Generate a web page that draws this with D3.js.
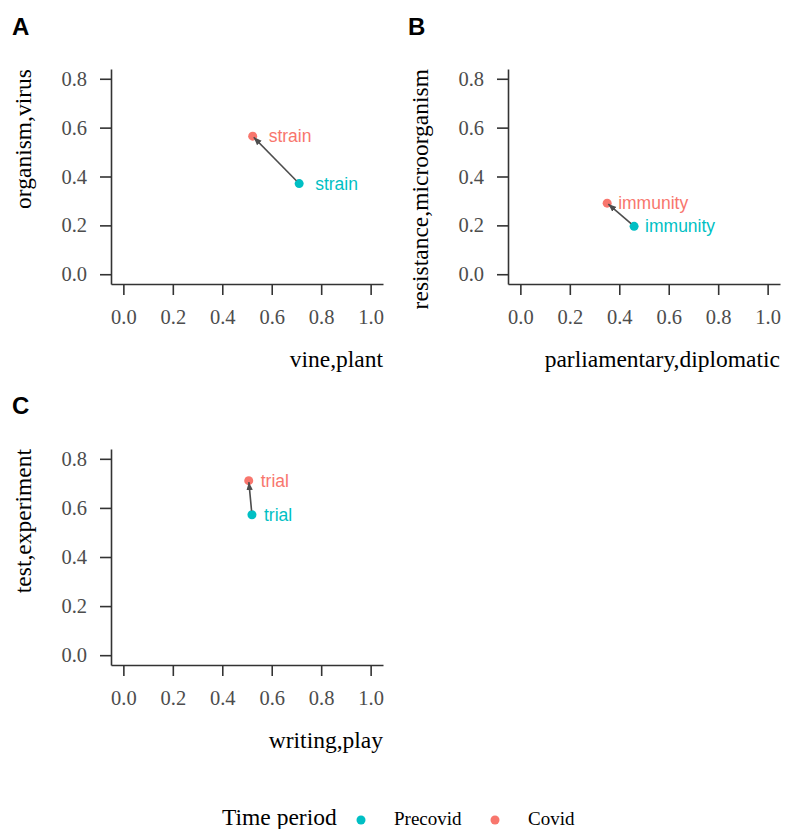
<!DOCTYPE html>
<html>
<head>
<meta charset="utf-8">
<script src="https://cdn.jsdelivr.net/npm/d3@7"></script>
<style>
  html, body { margin: 0; padding: 0; background: #fff; }
  svg { display: block; }
</style>
</head>
<body>
<svg id="chart" width="787" height="829"></svg>
<script>
// ---- data ----
const panelLetters = ["A", "B", "C"];
const words = ["strain", "immunity", "trial"];
const xAxisTitles = ["vine,plant", "parliamentary,diplomatic", "writing,play"];
const yAxisTitles = ["organism,virus", "resistance,microorganism", "test,experiment"];
const precovidX = [0.711, 0.460, 0.520];
const precovidY = [0.371, 0.196, 0.572];
const covidX = [0.523, 0.351, 0.507];
const covidY = [0.565, 0.291, 0.711];
const xTicks = [0, 0.2, 0.4, 0.6, 0.8, 1.0];
const yTicks = [0, 0.2, 0.4, 0.6, 0.8];
const periods = ["Precovid", "Covid"];
const legendTitle = "Time period";

// ---- layout ----
const colors = { Precovid: "#00BFC4", Covid: "#F8766D" };
const xDomain = [-0.05, 1.05];
const yDomain = [-0.04, 0.84];
const layout = [
  { x0: 111, x1: 383, y0: 284, y1: 69,  letterX: 12,  letterY: 35,  labelDx: 16 },
  { x0: 508, x1: 780, y0: 284, y1: 69,  letterX: 408, letterY: 35,  labelDx: 11 },
  { x0: 111, x1: 383, y0: 665, y1: 449, letterX: 12,  letterY: 414, labelDx: 12 }
];
const serif = "'Liberation Serif', 'Times New Roman', serif";
const sans = "'Liberation Sans', Arial, sans-serif";

const svg = d3.select("#chart");
const defs = svg.append("defs");
defs.append("marker")
  .attr("id", "arrowhead")
  .attr("viewBox", "0 0 10 10")
  .attr("refX", 10).attr("refY", 5)
  .attr("markerUnits", "userSpaceOnUse")
  .attr("markerWidth", 8).attr("markerHeight", 8)
  .attr("orient", "auto")
  .append("path")
  .attr("d", "M0,1 L10,5 L0,9 Z")
  .attr("fill", "#4d4d4d");

panelLetters.forEach((letter, i) => {
  const L = layout[i];
  const x = d3.scaleLinear().domain(xDomain).range([L.x0, L.x1]);
  const y = d3.scaleLinear().domain(yDomain).range([L.y0, L.y1]);
  const g = svg.append("g");

  // panel letter
  g.append("text")
    .attr("x", L.letterX).attr("y", L.letterY)
    .attr("font-family", sans).attr("font-weight", "bold")
    .attr("font-size", 24).attr("fill", "#000")
    .text(letter);

  // x axis
  const xa = g.append("g")
    .attr("transform", `translate(0,${L.y0})`)
    .call(d3.axisBottom(x).tickValues(xTicks).tickFormat(d3.format(".1f"))
      .tickSize(11).tickSizeOuter(0).tickPadding(14));
  // y axis
  const ya = g.append("g")
    .attr("transform", `translate(${L.x0},0)`)
    .call(d3.axisLeft(y).tickValues(yTicks).tickFormat(d3.format(".1f"))
      .tickSize(11).tickSizeOuter(0).tickPadding(13));

  [xa, ya].forEach(a => {
    a.select(".domain").attr("stroke", "#333").attr("stroke-width", 1.6);
    a.selectAll(".tick line").attr("stroke", "#333").attr("stroke-width", 1.6);
    a.selectAll(".tick text")
      .attr("font-family", serif).attr("font-size", 20.5).attr("fill", "#4d4d4d");
  });

  // axis titles
  g.append("text")
    .attr("x", L.x1).attr("y", L.y0 + 83)
    .attr("text-anchor", "end")
    .attr("font-family", serif).attr("font-size", 23.5).attr("fill", "#000")
    .text(xAxisTitles[i]);
  g.append("text")
    .attr("transform", `translate(${L.x0 - 80},${L.y1}) rotate(-90)`)
    .attr("text-anchor", "end")
    .attr("font-family", serif).attr("font-size", 23.5).attr("fill", "#000")
    .text(yAxisTitles[i]);

  // points
  const pts = [
    { period: "Precovid", vx: precovidX[i], vy: precovidY[i] },
    { period: "Covid", vx: covidX[i], vy: covidY[i] }
  ];
  g.selectAll("circle.pt").data(pts).enter().append("circle")
    .attr("class", "pt")
    .attr("cx", d => x(d.vx)).attr("cy", d => y(d.vy))
    .attr("r", 4.5).attr("fill", d => colors[d.period]);

  // arrow from precovid to covid (drawn over the points)
  const px = x(precovidX[i]), py = y(precovidY[i]);
  const cx = x(covidX[i]), cy = y(covidY[i]);
  const len = Math.hypot(cx - px, cy - py);
  const ux = (cx - px) / len, uy = (cy - py) / len;
  g.append("line")
    .attr("x1", px + ux * 4).attr("y1", py + uy * 4)
    .attr("x2", cx - ux * 1.5).attr("y2", cy - uy * 1.5)
    .attr("stroke", "#4d4d4d").attr("stroke-width", 1.6)
    .attr("marker-end", "url(#arrowhead)");

  // labels
  g.selectAll("text.lbl").data(pts).enter().append("text")
    .attr("class", "lbl")
    .attr("x", d => x(d.vx) + L.labelDx).attr("y", d => y(d.vy))
    .attr("dy", "0.35em")
    .attr("font-family", sans).attr("font-size", 17.5)
    .attr("fill", d => colors[d.period])
    .text(words[i]);
});

// legend
const lg = svg.append("g");
lg.append("text")
  .attr("x", 222).attr("y", 825)
  .attr("font-family", serif).attr("font-size", 23.5).attr("fill", "#000")
  .text(legendTitle);
const legendPos = [{ dot: 361, label: 394 }, { dot: 495, label: 528 }];
periods.forEach((p, k) => {
  lg.append("text")
    .attr("x", legendPos[k].dot).attr("y", 824)
    .attr("text-anchor", "middle")
    .attr("font-family", sans).attr("font-size", 8)
    .attr("fill", colors[p]).attr("opacity", 0.6)
    .text("a");
  lg.append("circle")
    .attr("cx", legendPos[k].dot).attr("cy", 820)
    .attr("r", 4.5).attr("fill", colors[p]);
  lg.append("text")
    .attr("x", legendPos[k].label).attr("y", 825)
    .attr("font-family", serif).attr("font-size", 19).attr("fill", "#000")
    .text(p);
});
</script>
</body>
</html>
